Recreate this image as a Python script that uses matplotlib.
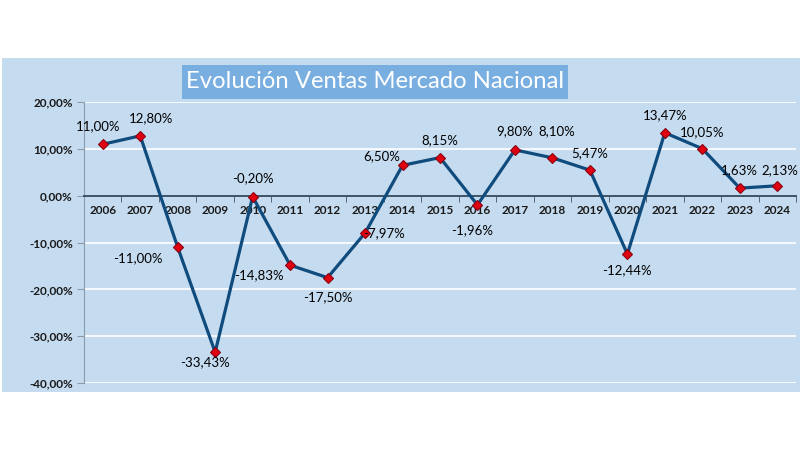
import matplotlib.pyplot as plt
from matplotlib.patches import Rectangle
from matplotlib.ticker import FixedLocator, FuncFormatter

plt.rcParams['font.family'] = ['Lato', 'DejaVu Sans']

years = ['2006', '2007', '2008', '2009', '2010', '2011', '2012', '2013', '2014',
         '2015', '2016', '2017', '2018', '2019', '2020', '2021', '2022', '2023', '2024']
growth = [11.00, 12.80, -11.00, -33.43, -0.20, -14.83, -17.50, -7.97, 6.50,
          8.15, -1.96, 9.80, 8.10, 5.47, -12.44, 13.47, 10.05, 1.63, 2.13]
y_ticks = [20, 10, 0, -10, -20, -30, -40]
title = 'Evolución Ventas Mercado Nacional'

# label placement in pixels (dx right, dy down) relative to each point
label_offsets = [(-5, -18), (11, -18), (-40, 11), (-10, 10), (0, -19), (-31, 10),
                 (0, 20), (19, 0), (-21, -9), (0, -17), (-5, 25), (0, -19),
                 (4, -27), (0, -17), (0, 16), (0, -18), (0, -17), (0, -18), (3, -16)]

bg = '#C5DBF0'
line_col = '#0F4C7D'

fig = plt.figure(figsize=(8, 4.5), dpi=100)
fig.patch.set_facecolor('white')

# chart area background
fig.patches.append(Rectangle((0.002, 0.129), 0.998, 0.742, transform=fig.transFigure,
                             facecolor=bg, edgecolor='none', zorder=-2))
# title box
fig.patches.append(Rectangle((182 / 800, 1 - 99 / 450), 386 / 800, 34 / 450,
                             transform=fig.transFigure, facecolor='#78AEE0',
                             edgecolor='none', zorder=-1))
fig.text(375 / 800, 1 - 82 / 450, title, ha='center', va='center', color='white',
         fontsize=17.2, zorder=3)

ax = fig.add_axes([0.105, 0.149, 0.89, 0.624])
ax.set_zorder(2)
ax.set_facecolor(bg)
x = list(range(len(years)))
ax.plot(x, growth, color=line_col, lw=2.3, zorder=3)
ax.plot(x, growth, linestyle='none', marker='D', markersize=5.5,
        markerfacecolor='#E00010', markeredgecolor='#8A0010', markeredgewidth=0.8, zorder=4)

for xi, v, (dx, dy) in zip(x, growth, label_offsets):
    ax.annotate(f'{v:.2f}%'.replace('.', ','), (xi, v), xytext=(dx, -dy),
                textcoords='offset pixels', ha='center', va='center',
                fontsize=9.5, color='#000000', zorder=5)

ax.set_xlim(-0.5, len(years) - 0.5)
ax.set_ylim(-40, 20)
ax.set_yticks(y_ticks)
ax.yaxis.set_major_formatter(FuncFormatter(lambda v, p: f'{v:.2f}%'.replace('.', ',')))
ax.grid(axis='y', color='white', lw=1.2, zorder=1)
ax.set_axisbelow(True)

ax.spines['top'].set_visible(False)
ax.spines['right'].set_visible(False)
ax.spines['left'].set_color('#8C9BAA')
ax.spines['bottom'].set_position(('data', 0))
ax.spines['bottom'].set_color('#3D5266')
ax.spines['bottom'].set_linewidth(1.4)

ax.set_xticks(x)
ax.set_xticklabels(years)
ax.xaxis.set_minor_locator(FixedLocator([i + 0.5 for i in range(-1, len(years))]))
ax.tick_params(axis='x', which='major', length=0, pad=7)
ax.tick_params(axis='x', which='minor', length=4, color='#3D5266', direction='out')
ax.tick_params(axis='y', length=5, color='#8C9BAA', pad=3)
for lbl in ax.get_xticklabels() + ax.get_yticklabels():
    lbl.set_fontweight('bold')
    lbl.set_fontsize(8.5)
    lbl.set_color('#1A1A1A')

fig.savefig('out.png', dpi=100)
